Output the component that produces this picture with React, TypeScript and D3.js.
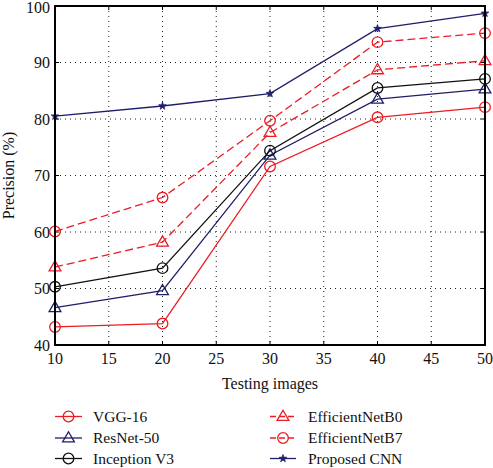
import React from "react";
import * as d3 from "d3";

const xValues = [10, 20, 30, 40, 50];
const xTicks = [10, 15, 20, 25, 30, 35, 40, 45, 50];
const yTicks = [40, 50, 60, 70, 80, 90, 100];

const vgg16 = [43.2, 43.8, 71.6, 80.3, 82.1];
const resnet50 = [46.6, 49.6, 73.6, 83.5, 85.3];
const inceptionV3 = [50.3, 53.6, 74.4, 85.5, 87.1];
const efficientB0 = [53.8, 58.2, 77.6, 88.7, 90.3];
const efficientB7 = [60.1, 66.1, 79.7, 93.6, 95.2];
const proposedCNN = [80.5, 82.3, 84.5, 96.0, 98.7];

const RED = "#ec1c24";
const NAVY = "#1e1e6a";
const BLACK = "#111111";

type Series = { name: string; values: number[]; color: string; dashed: boolean; marker: "circle" | "triangle" | "star" };

const series: Series[] = [
  { name: "VGG-16", values: vgg16, color: RED, dashed: false, marker: "circle" },
  { name: "ResNet-50", values: resnet50, color: NAVY, dashed: false, marker: "triangle" },
  { name: "Inception V3", values: inceptionV3, color: BLACK, dashed: false, marker: "circle" },
  { name: "EfficientNetB0", values: efficientB0, color: RED, dashed: true, marker: "triangle" },
  { name: "EfficientNetB7", values: efficientB7, color: RED, dashed: true, marker: "circle" },
  { name: "Proposed CNN", values: proposedCNN, color: NAVY, dashed: false, marker: "star" },
];

const W = 493, H = 468;
const L = 55, R = 485, T = 6, B = 345;
const FONT = "'Liberation Serif', 'Times New Roman', serif";

function Marker({ kind, x, y, color }: { kind: string; x: number; y: number; color: string }) {
  if (kind === "circle") return <circle cx={x} cy={y} r={5.3} fill="none" stroke={color} strokeWidth={1.3} />;
  if (kind === "triangle") {
    const p = d3.symbol().type(d3.symbolTriangle).size(60)();
    return <path d={p || ""} transform={`translate(${x},${y + 0.5})`} fill="none" stroke={color} strokeWidth={1.3} />;
  }
  const p = d3.symbol().type(d3.symbolStar).size(18)();
  return <path d={p || ""} transform={`translate(${x},${y})`} fill={color} stroke={color} strokeWidth={0.8} />;
}

export default function App() {
  const x = d3.scaleLinear().domain([10, 50]).range([L, R]);
  const y = d3.scaleLinear().domain([40, 100]).range([B, T]);
  const line = d3.line<number>().x((_, i) => x(xValues[i])).y((d) => y(d));

  const legendRows = [416.5, 438, 458.5];
  const legendCols = [{ x0: 55, x1: 82, tx: 93 }, { x0: 270, x1: 296, tx: 308 }];

  return (
    <svg width={W} height={H} style={{ position: "absolute", left: 0, top: 0, background: "#fff" }} fontFamily={FONT}>
      <rect width={W} height={H} fill="#fff" />
      {/* grid */}
      {xTicks.map((t) => (
        <line key={"gx" + t} x1={x(t)} x2={x(t)} y1={T} y2={B} stroke="#222" strokeWidth={1} strokeDasharray="1,4" />
      ))}
      {yTicks.map((t) => (
        <line key={"gy" + t} x1={L} x2={R} y1={y(t)} y2={y(t)} stroke="#222" strokeWidth={1} strokeDasharray="1,4" />
      ))}
      {/* ticks inward */}
      {xTicks.map((t) => (
        <g key={"tx" + t}>
          <line x1={x(t)} x2={x(t)} y1={B} y2={B - 4} stroke="#000" strokeWidth={1} />
          <line x1={x(t)} x2={x(t)} y1={T} y2={T + 4} stroke="#000" strokeWidth={1} />
          <text x={x(t)} y={364} textAnchor="middle" fontSize={16} fill="#111">{t}</text>
        </g>
      ))}
      {yTicks.map((t) => (
        <g key={"ty" + t}>
          <line x1={L} x2={L + 4} y1={y(t)} y2={y(t)} stroke="#000" strokeWidth={1} />
          <line x1={R} x2={R - 4} y1={y(t)} y2={y(t)} stroke="#000" strokeWidth={1} />
          <text x={50} y={Math.max(y(t) + 5.5, 12.5)} textAnchor="end" fontSize={16} fill="#111">{t}</text>
        </g>
      ))}
      {/* series */}
      {series.map((s) => (
        <g key={s.name}>
          <path d={line(s.values) || ""} fill="none" stroke={s.color} strokeWidth={1.3} strokeDasharray={s.dashed ? "8,4" : undefined} />
          {s.values.map((v, i) => (
            <Marker key={i} kind={s.marker} x={x(xValues[i])} y={y(v)} color={s.color} />
          ))}
        </g>
      ))}
      {/* frame */}
      <rect x={L} y={T} width={R - L} height={B - T} fill="none" stroke="#000" strokeWidth={2} />
      {/* axis labels */}
      <text x={270} y={389} textAnchor="middle" fontSize={16} fill="#111">Testing images</text>
      <text transform={`translate(14,${(T + B) / 2}) rotate(-90)`} textAnchor="middle" fontSize={16} fill="#111">Precision (%)</text>
      {/* legend */}
      {series.map((s, i) => {
        const col = legendCols[Math.floor(i / 3)];
        const ry = legendRows[i % 3];
        const mx = (col.x0 + col.x1) / 2;
        return (
          <g key={"lg" + s.name}>
            <line x1={col.x0} x2={col.x1} y1={ry} y2={ry} stroke={s.color} strokeWidth={1.3} strokeDasharray={s.dashed ? "6,3" : undefined} />
            <Marker kind={s.marker} x={mx} y={ry} color={s.color} />
            <text x={col.tx} y={ry + 5} fontSize={15.5} fill="#111">{s.name}</text>
          </g>
        );
      })}
    </svg>
  );
}
